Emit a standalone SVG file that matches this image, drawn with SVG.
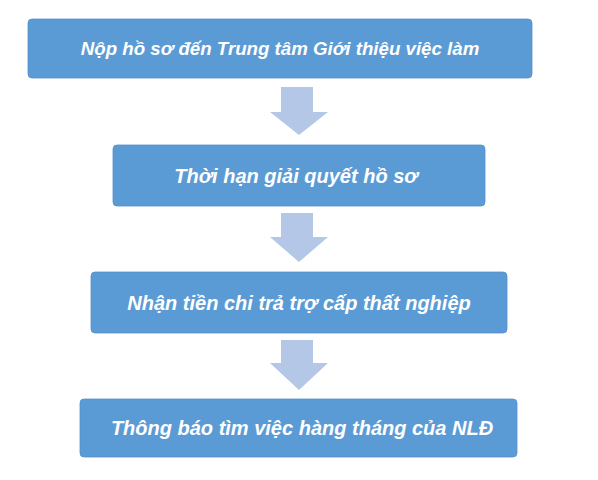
<svg xmlns="http://www.w3.org/2000/svg" width="598" height="480" viewBox="0 0 598 480">
<style>
.box{fill:#5b9bd5;stroke:#5690cc;stroke-width:0.8}
.lbl{font-family:"Liberation Sans",Arial,sans-serif;font-size:20px;font-weight:bold;font-style:italic;fill:#ffffff;text-anchor:middle;dominant-baseline:central}
.arr{fill:#b4c7e7}
</style>
<rect width="598" height="480" fill="#ffffff"/>
<g id="connectors">
<polygon class="arr" points="281,87 313,87 313,112 328,112 299,135 270,112 281,112"/>
<polygon class="arr" points="281,213 313,213 313,237 328,237 299,262 270,237 281,237"/>
<polygon class="arr" points="281,340 313,340 313,363 328,363 299,390 270,363 281,363"/>
</g>
<g id="node1"><rect class="box" x="28" y="19" width="504" height="59" rx="4"/><text class="lbl" x="280" y="48.5" style="font-size:18.7px">Nộp hồ sơ đến Trung tâm Giới thiệu việc làm</text></g>
<g id="node2"><rect class="box" x="113" y="145" width="372" height="61" rx="4"/><text class="lbl" x="296" y="175.5">Thời hạn giải quyết hồ sơ</text></g>
<g id="node3"><rect class="box" x="91" y="272" width="416" height="61" rx="4"/><text class="lbl" x="299" y="302.5">Nhận tiền chi trả trợ cấp thất nghiệp</text></g>
<g id="node4"><rect class="box" x="80" y="399" width="437" height="58" rx="4"/><text class="lbl" x="302" y="428">Thông báo tìm việc hàng tháng của NLĐ</text></g>
</svg>
